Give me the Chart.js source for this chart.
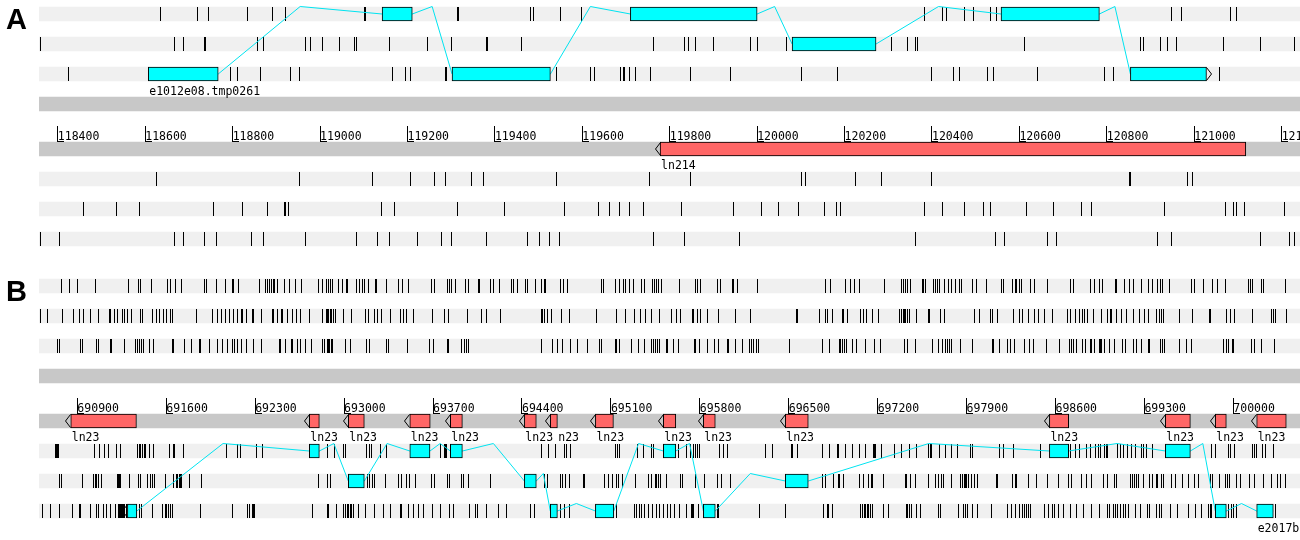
<!DOCTYPE html>
<html>
<head>
<meta charset="utf-8">
<title>Frame view</title>
<script src="https://cdn.jsdelivr.net/npm/chart.js@4.4.0/dist/chart.umd.min.js"></script>
<style>
  body { margin: 0; background: #fff; width: 1300px; height: 540px; overflow: hidden; position: relative; }
  canvas { position: absolute; left: 0; }
</style>
</head>
<body>
<canvas id="panelA" width="1300" height="272" style="top:0"></canvas>
<canvas id="panelB" width="1300" height="268" style="top:272px"></canvas>
<script>
// ---- panel A : 118357..121242 ----
const aView = [118357, 121242];
const aRuler = [118400, 118600, 118800, 119000, 119200, 119400, 119600, 119800, 120000, 120200, 120400, 120600, 120800, 121000, 121200];

// stop codons, forward frames 1-3 then reverse frames 1-3
const aStopsF1 = [118635, 118719, 118744, 118834, 118892, 118920, 119101, 119105, 119314, 119317, 119481, 119489, 119550, 119598, 120384, 120423, 120433, 120474, 120494, 120533, 120547, 120947, 120970, 121082, 121096];
const aStopsF2 = [118360, 118667, 118687, 118735, 118738, 118856, 118870, 118966, 118978, 119005, 119044, 119079, 119083, 119158, 119245, 119300, 119381, 119384, 119460, 119762, 119833, 119842, 119858, 119900, 119984, 120000, 120067, 120307, 120343, 120363, 120366, 120611, 120876, 120883, 120922, 120938, 120959, 121066, 121151, 121229];
const aStopsF3 = [118424, 118796, 118811, 118863, 118933, 118952, 119165, 119195, 119206, 119286, 119289, 119540, 119619, 119627, 119688, 119694, 119697, 119707, 119721, 119755, 119847, 119938, 120101, 120183, 120398, 120450, 120462, 120527, 120540, 120641, 120795, 120815, 121025, 121057];
const aStopsR1 = [118625, 118952, 119119, 119206, 119262, 119286, 119346, 119373, 119540, 119753, 119847, 120101, 120110, 120224, 120284, 120398, 120851, 120854, 120985, 120995];
const aStopsR2 = [118459, 118534, 118587, 118756, 118822, 118880, 118918, 118920, 118927, 119140, 119170, 119314, 119421, 119559, 119637, 119662, 119685, 119707, 119739, 119826, 119945, 120009, 120048, 120094, 120153, 120181, 120190, 120384, 120423, 120474, 120517, 120533, 120616, 120678, 120741, 120764, 120931, 121071, 121089, 121096, 121114, 121206];
const aStopsR3 = [118360, 118404, 118667, 118687, 118735, 118763, 118843, 118870, 118966, 119083, 119131, 119158, 119222, 119277, 119300, 119380, 119474, 119502, 119524, 119547, 119762, 119833, 119959, 120362, 120545, 120565, 120664, 120684, 120915, 120947, 121151, 121217, 121229];

// predicted exons [start, end, frame index 0..5]
const aExons = [[118607, 118767, 2], [119142, 119211, 0], [119302, 119527, 2], [119710, 120000, 0], [120080, 120272, 1], [120558, 120783, 0], [120854, 121028, 2]];
const aTxName = 'e1012e08.tmp0261';
const aTxStrand = '+';
const aGenes = [[119778, 121118]];
const aGeneNames = ['ln214'];

// ---- panel B : 690598..700525 ----
const bView = [690598, 700525];
const bRuler = [690900, 691600, 692300, 693000, 693700, 694400, 695100, 695800, 696500, 697200, 697900, 698600, 699300, 700000];

const bStopsF1 = [690774, 690840, 690900, 691045, 691302, 691383, 691396, 691483, 691609, 691630, 691675, 691722, 691900, 691916, 691994, 692063, 692123, 692130, 692165, 692336, 692383, 692396, 692409, 692425, 692441, 692454, 692474, 692527, 692569, 692614, 692663, 692797, 692826, 692858, 692874, 692889, 692905, 692952, 692984, 693018, 693029, 693099, 693123, 693147, 693162, 693188, 693244, 693257, 693336, 693432, 693456, 693509, 693690, 693710, 693813, 693826, 693847, 693876, 693954, 693983, 694054, 694065, 694154, 694175, 694220, 694316, 694335, 694364, 694430, 694446, 694505, 694553, 694574, 694584, 694705, 694726, 694757, 695028, 695044, 695138, 695164, 695196, 695217, 695245, 695277, 695343, 695363, 695426, 695442, 695458, 695474, 695497, 695639, 695765, 695781, 695804, 695938, 695962, 696056, 696067, 696099, 696253, 696788, 696831, 696946, 696985, 697017, 697056, 697256, 697387, 697402, 697418, 697434, 697455, 697552, 697563, 697579, 697638, 697652, 697668, 697686, 697725, 697754, 697783, 697812, 697843, 697864, 697945, 697980, 698056, 698177, 698193, 698263, 698282, 698297, 698313, 698334, 698400, 698437, 698536, 698720, 698738, 698874, 698906, 698948, 698972, 699071, 699082, 699142, 699185, 699216, 699279, 699334, 699362, 699405, 699423, 699439, 699499, 699673, 699691, 699764, 699835, 699877, 699935, 700118, 700132, 700155, 700218, 700239, 700413];
const bStopsF2 = [690609, 690664, 690782, 690872, 690913, 690947, 691005, 691065, 691155, 691160, 691191, 691218, 691252, 691273, 691294, 691325, 691394, 691415, 691490, 691525, 691549, 691577, 691598, 691630, 691646, 691837, 691963, 692002, 692034, 692068, 692100, 692128, 692163, 692194, 692197, 692228, 692275, 692289, 692346, 692433, 692443, 692474, 692509, 692513, 692556, 692590, 692622, 692659, 692730, 692829, 692858, 692868, 692879, 692889, 692900, 692913, 692929, 692999, 693057, 693062, 693170, 693194, 693241, 693265, 693296, 693364, 693446, 693466, 693488, 693545, 693695, 693787, 693821, 693968, 694083, 694123, 694235, 694553, 694564, 694576, 694603, 694635, 694713, 694773, 694989, 695143, 695212, 695288, 695330, 695369, 695420, 695479, 695579, 695613, 695650, 695744, 695752, 695781, 695802, 695859, 695946, 696080, 696198, 696558, 696566, 696744, 696786, 696807, 696843, 696925, 696933, 696961, 697067, 697087, 697109, 697158, 697203, 697376, 697387, 697400, 697410, 697421, 697434, 697453, 697508, 697602, 697610, 697694, 697725, 697961, 698001, 698090, 698101, 698145, 698271, 698313, 698342, 698389, 698434, 698468, 698515, 698573, 698693, 698720, 698756, 698791, 698811, 698830, 698854, 698898, 698961, 699008, 699035, 699043, 699082, 699122, 699161, 699213, 699263, 699303, 699336, 699392, 699418, 699436, 699449, 699573, 699677, 699809, 699822, 699948, 699980, 700011, 700153, 700302, 700318, 700336, 700415];
const bStopsF3 = [690743, 690756, 690924, 690939, 691050, 691068, 691163, 691168, 691273, 691360, 691372, 691388, 691401, 691420, 691464, 691498, 691646, 691659, 691742, 691801, 691860, 691868, 691937, 692002, 692045, 692084, 692123, 692139, 692163, 692191, 692228, 692286, 692352, 692490, 692501, 692537, 692582, 692593, 692635, 692653, 692698, 692742, 692832, 692842, 692866, 692876, 692887, 692897, 692911, 693013, 693047, 693175, 693196, 693332, 693351, 693498, 693676, 693706, 693810, 693824, 693923, 693944, 693962, 693978, 694553, 694642, 694682, 694718, 694784, 694836, 694918, 695009, 695023, 695133, 695146, 695167, 695261, 695314, 695367, 695419, 695434, 695450, 695466, 695482, 695534, 695542, 695592, 695631, 695755, 695768, 695796, 695859, 695915, 695949, 696017, 696025, 696080, 696135, 696193, 696209, 696225, 696243, 696264, 696505, 696765, 696820, 696899, 696910, 696925, 696938, 696957, 697001, 697035, 697106, 697172, 697219, 697408, 697434, 697502, 697628, 697683, 697709, 697738, 697749, 697764, 697780, 697849, 697945, 698106, 698114, 698161, 698221, 698248, 698276, 698358, 698394, 698426, 698531, 698630, 698709, 698728, 698744, 698764, 698811, 698833, 698872, 698885, 698904, 698943, 698953, 698966, 698988, 699027, 699066, 699124, 699155, 699218, 699240, 699279, 699334, 699342, 699429, 699439, 699462, 699578, 699628, 699673, 699925, 699948, 699964, 699990, 700000, 700147, 700163, 700218, 700326];
const bStopsR1 = [690727, 690735, 690743, 690750, 691034, 691073, 691110, 691144, 691210, 691239, 691372, 691386, 691399, 691415, 691427, 691439, 691467, 691501, 691622, 691653, 691664, 691738, 692076, 692163, 692181, 692312, 692360, 692866, 692923, 692994, 693013, 693175, 693196, 693214, 693283, 693330, 693755, 693761, 693789, 693802, 693808, 694556, 694611, 694666, 694731, 694749, 694779, 695138, 695154, 695170, 695312, 695359, 695416, 695434, 695629, 695697, 695723, 695749, 695765, 695781, 695796, 695959, 695985, 696020, 696321, 696374, 696524, 696532, 696571, 696765, 696820, 696883, 696888, 696946, 697001, 697054, 697103, 697164, 697172, 697182, 697227, 697331, 697384, 697450, 697508, 697602, 697613, 697623, 697689, 697738, 697780, 697831, 697935, 697945, 698158, 698190, 698268, 698484, 698715, 698756, 698793, 698841, 698878, 698914, 698937, 698956, 698988, 698998, 699008, 699090, 699114, 699134, 699166, 699197, 699232, 699276, 699292, 699313, 699360, 699830, 699856, 699961, 699980, 700013, 700150, 700163, 700179, 700226, 700252, 700320];
const bStopsR2 = [690758, 690774, 690939, 691026, 691039, 691053, 691065, 691089, 691215, 691223, 691231, 691239, 691307, 691383, 691399, 691454, 691472, 691490, 691506, 691590, 691656, 691679, 691690, 691701, 691711, 691722, 691785, 691876, 692797, 692871, 692889, 693183, 693202, 693222, 693238, 693322, 693432, 693454, 693490, 693514, 693558, 693690, 693714, 693810, 693832, 693926, 693942, 693981, 694154, 694574, 694600, 694702, 694721, 694745, 694773, 694881, 694894, 695052, 695080, 695112, 695143, 695159, 695188, 695293, 695395, 695419, 695450, 695461, 695477, 695493, 695534, 695647, 695660, 695768, 695836, 695941, 695967, 696040, 696768, 696791, 696849, 696891, 696899, 696933, 697056, 697087, 697130, 697148, 697158, 697248, 697418, 697429, 697461, 697500, 697597, 697654, 697681, 697701, 697717, 697778, 697849, 697867, 697880, 697894, 697901, 697917, 697938, 697961, 697985, 698138, 698142, 698263, 698282, 698295, 698384, 698449, 698536, 698626, 698701, 698725, 698807, 698848, 698882, 698980, 699008, 699066, 699077, 699192, 699205, 699221, 699234, 699250, 699292, 699339, 699362, 699392, 699405, 699433, 699447, 699515, 699544, 699599, 699651, 699696, 699725, 699817, 699840, 699893, 699937, 699958, 699972, 700024, 700058, 700126, 700163, 700234, 700239, 700299, 700346, 700370, 700409];
const bStopsR3 = [690625, 690687, 690758, 690864, 690916, 690924, 691002, 691053, 691065, 691105, 691128, 691157, 691197, 691223, 691231, 691239, 691246, 691254, 691262, 691270, 691283, 691391, 691407, 691490, 691569, 691590, 691604, 691616, 691630, 691646, 691868, 692120, 692236, 692254, 692278, 692289, 692297, 692750, 692866, 692874, 692939, 692994, 693007, 693025, 693036, 693049, 693060, 693070, 693115, 693170, 693241, 693309, 693364, 693443, 693451, 693506, 693543, 693582, 693627, 693695, 693755, 693826, 693863, 693984, 694036, 694052, 694120, 694214, 694280, 694464, 694501, 694700, 694731, 694771, 695146, 695285, 695304, 695322, 695343, 695363, 695395, 695426, 695456, 695482, 695513, 695545, 695568, 695603, 695639, 695694, 695737, 695744, 695752, 695789, 695936, 695946, 696269, 696473, 696773, 696802, 696815, 696843, 697067, 697080, 697093, 697106, 697119, 697132, 697146, 697156, 697245, 697287, 697424, 697437, 697450, 697463, 697508, 697536, 697681, 697691, 697838, 697878, 697894, 697904, 697945, 697985, 698095, 698226, 698256, 698287, 698315, 698339, 698355, 698374, 698389, 698405, 698515, 698547, 698575, 698591, 698620, 698662, 698717, 698762, 698819, 698882, 698943, 699011, 699029, 699055, 699071, 699092, 699114, 699134, 699150, 699174, 699232, 699271, 699323, 699339, 699394, 699418, 699431, 699502, 699559, 699649, 699704, 699746, 699803, 699817, 699830, 699964, 699984, 700003, 700029, 700336];

const bExons = [[691294, 691368, 5], [692726, 692805, 3], [693033, 693159, 4], [693517, 693676, 3], [693836, 693931, 3], [694419, 694513, 4], [694623, 694679, 5], [694978, 695123, 5], [695513, 695611, 3], [695828, 695922, 5], [696473, 696654, 4], [698552, 698704, 3], [699465, 699662, 3], [699858, 699945, 5], [700184, 700315, 5]];
const bTxName = 'e2017b';
const bTxStrand = '-';
const bGenes = [[690848, 691365], [692726, 692805], [693033, 693159], [693517, 693678], [693836, 693931], [694419, 694513], [694623, 694679], [694978, 695120], [695513, 695611], [695828, 695922], [696473, 696654], [698552, 698704], [699465, 699662], [699858, 699945], [700184, 700417]];
const bGeneNames = ['ln23', 'ln23', 'ln23', 'ln23', 'ln23', 'ln23', 'ln23', 'ln23', 'ln23', 'ln23', 'ln23', 'ln23', 'ln23', 'ln23', 'ln23'];

// ---- layout of the track rows (y units) ----
const FRAME_ROWS = [0, 1, 2, 5.5, 6.5, 7.5];
const SEQ_ROW = 3;
const RULER_ROW = 4;
const RULER_LABEL_ROW = 3.86;
const GENE_ROW = 4.5;

const ROW_GREY = '#f0f0f0';
const DARK_GREY = '#c8c8c8';
const EXON_CYAN = '#00ffff';
const LINK_CYAN = '#00e4f0';
const GENE_RED = '#ff6666';
const LABEL_FONT = '11.5px "DejaVu Sans Mono", monospace';

// little glyphs used as point styles
function glyph(w, h, paint) {
  const c = document.createElement('canvas');
  c.width = w; c.height = h;
  const g = c.getContext('2d');
  g.strokeStyle = '#000'; g.fillStyle = '#000'; g.lineWidth = 1;
  paint(g);
  return c;
}
const rulerMark = glyph(15, 16, g => { g.fillRect(7, 0, 1, 16); g.fillRect(7, 15, 7, 1); });
const arrowLeft = glyph(11, 14, g => { g.beginPath(); g.moveTo(5.5, 0.5); g.lineTo(0.5, 7); g.lineTo(5.5, 13.5); g.stroke(); });
const arrowRight = glyph(11, 14, g => { g.beginPath(); g.moveTo(5.5, 0.5); g.lineTo(10.5, 7); g.lineTo(5.5, 13.5); g.stroke(); });

// keep the thin marks on whole pixels
const snapPlugin = {
  id: 'snap',
  beforeDatasetsDraw(chart) {
    chart.data.datasets.forEach((ds, i) => {
      if (!ds.snap) return;
      chart.getDatasetMeta(i).data.forEach(pt => {
        pt.x = Math.floor(pt.x) + 0.5;
        if (ds.snap === 'xy') pt.y = Math.round(pt.y);
      });
    });
  }
};

// panel letter + feature names
const textPlugin = {
  id: 'panelText',
  afterDraw(chart, args, opts) {
    const ctx = chart.ctx;
    const xs = chart.scales.x, ys = chart.scales.y;
    ctx.save();
    ctx.fillStyle = '#000';
    ctx.textBaseline = 'alphabetic';
    ctx.textAlign = 'left';
    ctx.font = 'bold 29px "Liberation Sans", Arial, sans-serif';
    ctx.fillText(opts.letter, 6, 29);
    ctx.font = LABEL_FONT;
    const cw = ctx.measureText('0').width;
    const ends = {};
    opts.items.slice().sort((a, b) => a.x - b.x).forEach(it => {
      let px = xs.getPixelForValue(it.x) + 1;
      let txt = it.text;
      const prev = ends[it.row] !== undefined ? ends[it.row] : -Infinity;
      while (txt.length && px < prev) { txt = txt.slice(1); px += cw; }
      ctx.fillText(txt, px, ys.getPixelForValue(it.row) + it.dy);
      ends[it.row] = px + ctx.measureText(txt).width;
    });
    ctx.restore();
  }
};

function hbar(data, extra) {
  return Object.assign({
    type: 'bar', indexAxis: 'y', data: data, barThickness: 14, stack: 'all',
    borderWidth: 0, borderSkipped: false
  }, extra);
}

function stops(values, row) {
  return {
    type: 'scatter', data: values.map(v => ({ x: v, y: row })),
    pointStyle: 'line', pointRotation: 90, pointRadius: 7,
    pointBorderWidth: 1, pointBorderColor: '#000', snap: 'x', order: 3
  };
}

function buildPanel(id, p) {
  const cv = document.getElementById(id);
  const H = cv.height;
  const datasets = [];

  datasets.push(hbar(FRAME_ROWS.map(r => ({ x: p.view, y: r })), { backgroundColor: ROW_GREY, order: 5 }));
  datasets.push(hbar([SEQ_ROW, GENE_ROW].map(r => ({ x: p.view, y: r })), { backgroundColor: DARK_GREY, order: 5 }));
  p.stops.forEach((vals, i) => datasets.push(stops(vals, FRAME_ROWS[i])));

  // intron links: exon end -> apex above the higher row -> next exon start
  const link = [];
  p.exons.forEach((e, i) => {
    const row = FRAME_ROWS[e[2]];
    if (i > 0) {
      const prev = p.exons[i - 1];
      link.push({ x: (prev[1] + e[0]) / 2, y: Math.min(FRAME_ROWS[prev[2]], row) - 0.25 });
    }
    link.push({ x: e[0], y: row }, { x: e[1], y: row });
  });
  datasets.push({ type: 'scatter', data: link, showLine: true, borderColor: LINK_CYAN, borderWidth: 1, pointRadius: 0, order: 2 });

  datasets.push(hbar(p.exons.map(e => ({ x: [e[0], e[1]], y: FRAME_ROWS[e[2]] })),
    { backgroundColor: EXON_CYAN, borderColor: '#000', borderWidth: 1, order: 1 }));
  datasets.push(hbar(p.genes.map(g => ({ x: [g[0], g[1]], y: GENE_ROW })),
    { backgroundColor: GENE_RED, borderColor: '#000', borderWidth: 1, order: 1 }));

  datasets.push({ type: 'scatter', data: p.genes.map(g => ({ x: g[0], y: GENE_ROW })),
    pointStyle: arrowLeft, pointRadius: 5, snap: 'xy', order: 0 });
  const first = p.exons[0], last = p.exons[p.exons.length - 1];
  const tip = p.strand === '+' ? { x: last[1], y: FRAME_ROWS[last[2]] } : { x: first[0], y: FRAME_ROWS[first[2]] };
  datasets.push({ type: 'scatter', data: [tip], pointStyle: p.strand === '+' ? arrowRight : arrowLeft,
    pointRadius: 5, snap: 'xy', order: 0 });

  datasets.push({ type: 'scatter', data: p.ruler.map(v => ({ x: v, y: RULER_ROW })),
    pointStyle: rulerMark, pointRadius: 5, snap: 'xy', order: 0 });

  const labelExon = p.strand === '+' ? first : last;
  const items = [{ x: labelExon[0], row: FRAME_ROWS[labelExon[2]], dy: 21, text: p.txName }];
  p.genes.forEach((g, i) => items.push({ x: g[0], row: GENE_ROW, dy: 19.5, text: p.geneNames[i] }));

  return new Chart(cv, {
    data: { datasets },
    plugins: [snapPlugin, textPlugin],
    options: {
      responsive: false,
      animation: false,
      devicePixelRatio: 1,
      events: [],
      layout: { autoPadding: false, padding: { left: 39, right: 0, top: 0, bottom: 0 } },
      plugins: {
        legend: { display: false },
        tooltip: { enabled: false },
        panelText: { letter: p.letter, items }
      },
      scales: {
        x: {
          type: 'linear', min: p.view[0], max: p.view[1], stacked: false, offset: false,
          position: { y: RULER_LABEL_ROW },
          grid: { display: false, drawTicks: false, offset: false },
          border: { display: false },
          afterBuildTicks: s => { s.ticks = p.ruler.map(v => ({ value: v })); },
          afterFit: s => { s.paddingLeft = 0; s.paddingRight = 0; },
          ticks: {
            align: 'start', autoSkip: false, maxRotation: 0, minRotation: 0, padding: 0,
            color: '#000', font: { family: 'DejaVu Sans Mono', size: 11.5 },
            callback: v => String(v)
          }
        },
        y: {
          type: 'linear', display: false, reverse: true, offset: false,
          grid: { offset: false },
          min: -14 / 30, max: (H - 14) / 30
        }
      }
    }
  });
}

buildPanel('panelA', {
  letter: 'A', view: aView, ruler: aRuler,
  stops: [aStopsF1, aStopsF2, aStopsF3, aStopsR1, aStopsR2, aStopsR3],
  exons: aExons, strand: aTxStrand, txName: aTxName, genes: aGenes, geneNames: aGeneNames
});
buildPanel('panelB', {
  letter: 'B', view: bView, ruler: bRuler,
  stops: [bStopsF1, bStopsF2, bStopsF3, bStopsR1, bStopsR2, bStopsR3],
  exons: bExons, strand: bTxStrand, txName: bTxName, genes: bGenes, geneNames: bGeneNames
});
</script>
</body>
</html>
